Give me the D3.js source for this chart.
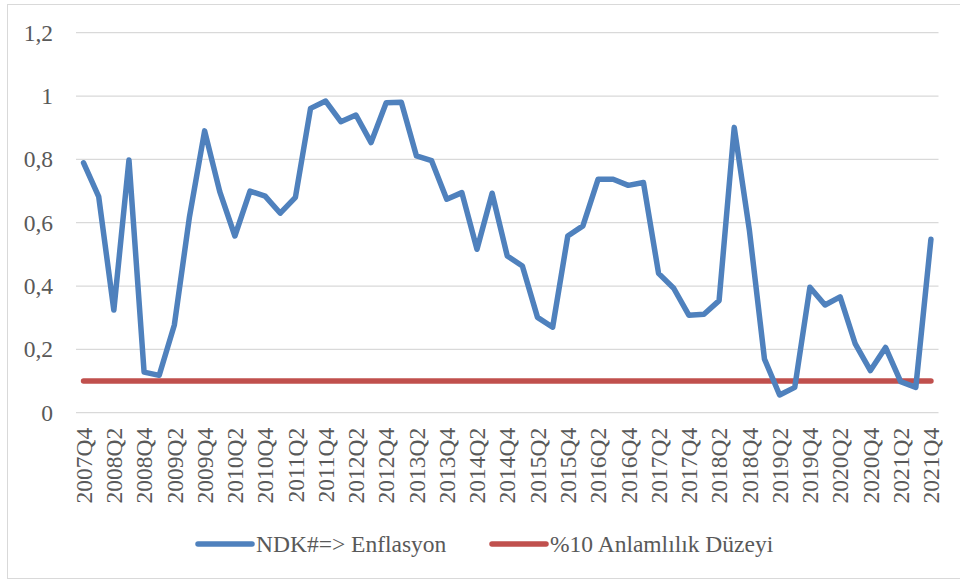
<!DOCTYPE html>
<html lang="tr">
<head>
<meta charset="utf-8">
<title>NDK => Enflasyon</title>
<script src="https://cdn.jsdelivr.net/npm/d3@7"></script>
<style>
  body { margin: 0; background: #fff; }
</style>
</head>
<body>
<script>
// quarters 2007Q4 .. 2021Q4
var quarters = [];
for (var yr = 2007; yr <= 2021; yr++) {
  for (var q = 1; q <= 4; q++) {
    if (yr === 2007 && q < 4) continue;
    quarters.push(yr + "Q" + q);
  }
}
var ndkValues = [0.789, 0.682, 0.324, 0.798, 0.128, 0.118, 0.277, 0.619, 0.890, 0.698,
  0.558, 0.700, 0.684, 0.630, 0.680, 0.961, 0.984, 0.919, 0.940, 0.853,
  0.979, 0.980, 0.811, 0.796, 0.674, 0.695, 0.516, 0.693, 0.495, 0.463,
  0.301, 0.270, 0.558, 0.590, 0.737, 0.737, 0.718, 0.727, 0.440, 0.393,
  0.308, 0.311, 0.354, 0.901, 0.577, 0.169, 0.056, 0.080, 0.396, 0.340,
  0.366, 0.217, 0.133, 0.206, 0.098, 0.080, 0.548];
var threshold = 0.1;
var yTicks = [0, 0.2, 0.4, 0.6, 0.8, 1, 1.2];
var seriesNames = ["NDK#=> Enflasyon", "%10 Anlamlılık Düzeyi"];
var seriesColors = ["#4f81bd", "#c0504d"];

var w = 960, h = 580;
var plotLeft = 76, plotRight = 938.5, plotTop = 32.7, plotBottom = 412.7;
var fontSize = "23.5px";
var fontFamily = "'Liberation Serif'";
var textColor = "#595959";

var svg = d3.select("body").append("svg")
  .attr("width", w)
  .attr("height", h)
  .style("font-family", fontFamily);

// chart border
svg.append("rect")
  .attr("x", 7.5).attr("y", 4.5)
  .attr("width", 970).attr("height", 574)
  .attr("fill", "none")
  .attr("stroke", "#d9d9d9");

var xScale = d3.scaleBand()
  .domain(quarters)
  .range([plotLeft, plotRight]);

var yScale = d3.scaleLinear()
  .domain([0, 1.2])
  .range([plotBottom, plotTop]);

var cx = function(d) { return xScale(d) + xScale.bandwidth() / 2; };

// gridlines
svg.append("g").selectAll("line")
  .data(yTicks)
  .enter().append("line")
  .attr("x1", plotLeft).attr("x2", plotRight)
  .attr("y1", function(d) { return yScale(d); })
  .attr("y2", function(d) { return yScale(d); })
  .attr("stroke", "#d9d9d9")
  .attr("stroke-width", 1.3);

// y-axis labels
var yAxis = d3.axisLeft(yScale)
  .tickValues(yTicks)
  .tickSize(0)
  .tickPadding(23)
  .tickFormat(function(d) { return String(d).replace(".", ","); });
var yg = svg.append("g")
  .attr("transform", "translate(" + plotLeft + ",0)")
  .call(yAxis)
  .attr("font-family", null)
  .attr("font-size", null);
yg.select(".domain").remove();
yg.selectAll("text")
  .style("font-family", fontFamily)
  .style("font-size", fontSize)
  .style("fill", textColor);

// x-axis labels, every second quarter
var xAxis = d3.axisBottom(xScale)
  .tickValues(quarters.filter(function(d, i) { return i % 2 === 0; }))
  .tickSize(0);
var xg = svg.append("g")
  .attr("transform", "translate(0," + plotBottom + ")")
  .call(xAxis)
  .attr("font-family", null)
  .attr("font-size", null);
xg.select(".domain").remove();
xg.selectAll("text")
  .style("font-family", fontFamily)
  .style("font-size", fontSize)
  .style("fill", textColor)
  .attr("text-anchor", "end")
  .attr("dy", "0.35em")
  .attr("y", 0)
  .attr("x", -15)
  .attr("transform", "rotate(-90)");

// threshold line
svg.append("line")
  .attr("x1", cx(quarters[0]))
  .attr("x2", cx(quarters[quarters.length - 1]))
  .attr("y1", yScale(threshold))
  .attr("y2", yScale(threshold))
  .attr("stroke", seriesColors[1])
  .attr("stroke-width", 5.5)
  .attr("stroke-linecap", "round");

// NDK line
var line = d3.line()
  .x(function(d, i) { return cx(quarters[i]); })
  .y(function(d) { return yScale(d); });
svg.append("path")
  .datum(ndkValues)
  .attr("d", line)
  .attr("fill", "none")
  .attr("stroke", seriesColors[0])
  .attr("stroke-width", 5.5)
  .attr("stroke-linejoin", "round")
  .attr("stroke-linecap", "round");

// legend
var legendX = [198, 492];
var legend = svg.append("g").selectAll("g")
  .data(seriesNames)
  .enter().append("g")
  .attr("transform", function(d, i) { return "translate(" + legendX[i] + ",544)"; });
legend.append("line")
  .attr("x1", 0).attr("x2", 54)
  .attr("stroke", function(d, i) { return seriesColors[i]; })
  .attr("stroke-width", 5.5)
  .attr("stroke-linecap", "round");
legend.append("text")
  .attr("x", 58)
  .attr("dy", "0.35em")
  .style("font-family", fontFamily)
  .style("font-size", fontSize)
  .style("fill", textColor)
  .text(function(d) { return d; });
</script>
</body>
</html>
